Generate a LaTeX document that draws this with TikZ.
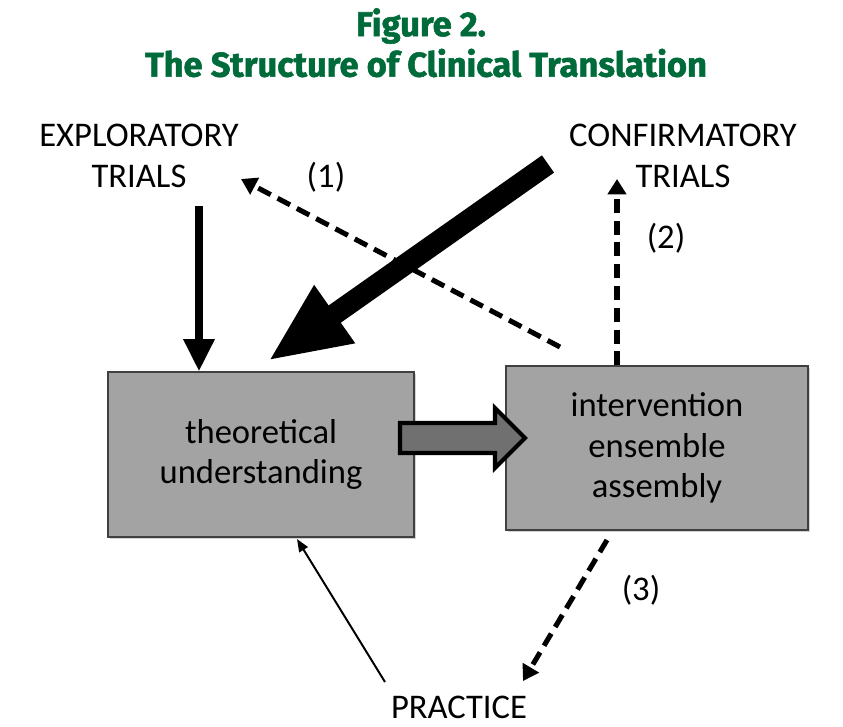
\documentclass[tikz,border=0pt]{standalone}
\usepackage{fontspec}
\setmainfont{Carlito}
\newfontfamily\titlefont[BoldFeatures={FakeBold=1.6}]{Fira Sans}
\usetikzlibrary{arrows.meta,shadows}

\definecolor{titlegreen}{RGB}{0,107,58}
\definecolor{boxgray}{RGB}{163,163,163}
\definecolor{flowgray}{RGB}{112,112,112}

\tikzset{
  lbl/.style={font=\fontsize{24.6}{29}\selectfont, align=center, inner sep=0pt},
  headline/.style={font=\titlefont\bfseries\fontsize{24.5}{28}\selectfont, text=titlegreen, inner sep=0pt},
  stage/.style={draw=black!75, fill=boxgray, line width=0.8pt, lbl,
    drop shadow={shadow xshift=1.5pt, shadow yshift=-1.5pt, opacity=0.35}},
  dasharrow/.style={line width=3.6pt, dash pattern=on 10pt off 5.5pt,
    -{Triangle[length=11pt,width=13pt]}},
  heavyarrow/.style={line width=15pt, -{Triangle[length=58pt,width=46pt]}},
  solidarrow/.style={line width=5.5pt, -{Triangle[length=23pt,width=21pt]}},
  thinarrow/.style={line width=1.4pt, -{Triangle[length=9pt,width=7pt]}}
}

\begin{document}
\begin{tikzpicture}[x=0.025cm, y=-0.025cm]
  \useasboundingbox (0,0) rectangle (843,726);

  % title
  \node[headline] (fig) at (421,26) {Figure 2.};
  \node[headline] (title) at (426,63) {The Structure of Clinical Translation};

  % trials and practice
  \node[lbl] (explor) at (139,156) {EXPLORATORY\\TRIALS};
  \node[lbl] (confirm) at (683,156) {CONFIRMATORY\\TRIALS};
  \node[lbl] (practice) at (459,707) {PRACTICE};

  % the two stages
  \node[stage, minimum width=7.65cm, minimum height=4.125cm] (theory) at (261,454.5)
    {theoretical\\understanding};
  \node[stage, minimum width=7.55cm, minimum height=4.1cm] (ensemble) at (657,448)
    {intervention\\ensemble\\assembly};

  % labels of the dashed paths
  \node[lbl] (lab1) at (326,177) {(1)};
  \node[lbl] (lab2) at (666,238) {(2)};
  \node[lbl] (lab3) at (641,590) {(3)};

  % free ends
  \coordinate (heavytail) at (548,164);
  \coordinate (heavytip) at (268,361);
  \coordinate (exptail) at (199,206);
  \coordinate (onetail) at (560,347);
  \coordinate (onetip) at (241,179);
  \coordinate (twotip) at (617,179);
  \coordinate (threetail) at (607,540);
  \coordinate (threetip) at (523,681);
  \coordinate (practail) at (385,682);
  \coordinate (practip) at (297,539);

  \draw[solidarrow] (exptail) -- (exptail |- theory.north);
  \draw[dasharrow] (onetail) -- (onetip);
  \draw[heavyarrow] (heavytail) -- (heavytip);
  \draw[dasharrow] (twotip |- ensemble.north) -- (twotip);
  \draw[dasharrow] (threetail) -- (threetip);
  \draw[thinarrow] (practail) -- (practip);

  % block arrow between the stages
  \draw[line width=3pt, fill=flowgray, line join=miter]
    (400,423) -- (495,423) -- (495,408) -- (525,438) -- (495,468) -- (495,453) -- (400,453) -- cycle;
\end{tikzpicture}
\end{document}
